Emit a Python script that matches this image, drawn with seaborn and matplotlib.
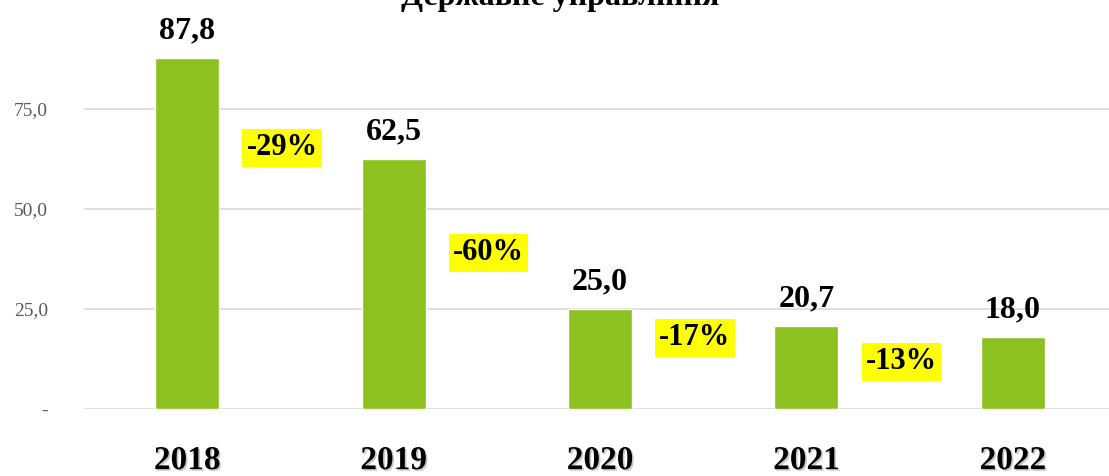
import matplotlib.pyplot as plt
import matplotlib.patheffects as pe
import seaborn as sns
import pandas as pd

years = ['2018', '2019', '2020', '2021', '2022']
values = [87.8, 62.5, 25.0, 20.7, 18.0]
changes = ['-29%', '-60%', '-17%', '-13%']
change_y = [65.3, 39.0, 17.8, 11.8]

df = pd.DataFrame({'Рік': years, 'Значення': values})

sns.set_theme(style="white")
plt.rcParams['font.family'] = ['Liberation Serif', 'DejaVu Serif']

fig = plt.figure(figsize=(11.09, 4.76), dpi=100)
ax = fig.add_axes([84 / 1109, 67 / 476, 1032 / 1109, 400 / 476])

sns.barplot(data=df, x='Рік', y='Значення', color='#8CC11F', width=0.31,
            saturation=1, ax=ax)

ax.set_ylim(0, 100)
ax.set_xlim(-0.5, 4.5)
ax.set_yticks([0, 25, 50, 75])
ax.set_yticklabels(['-', '25,0', '50,0', '75,0'], color='#595959', fontsize=14)
ax.yaxis.grid(True, color='#d9d9d9', linewidth=1.2)
ax.set_axisbelow(True)
for s in ax.spines.values():
    s.set_visible(False)
ax.tick_params(axis='y', length=0, pad=26)
ax.tick_params(axis='x', length=0, pad=26)
ax.set_xlabel('')
ax.set_ylabel('')

for lbl in ax.get_xticklabels():
    lbl.set_fontsize(24)
    lbl.set_fontweight('bold')
    lbl.set_color('black')
    lbl.set_path_effects([pe.withSimplePatchShadow(offset=(1.2, -1.2), shadow_rgbFace='#999999', alpha=0.5)])

ax.bar_label(ax.containers[0], labels=[f'{v:.1f}'.replace('.', ',') for v in values],
             padding=9, fontsize=23, fontweight='bold', color='black')

for i, (txt, y) in enumerate(zip(changes, change_y)):
    ax.text(i + 0.46, y, txt, ha='center', va='center', fontsize=22, fontweight='bold',
            color='black', bbox=dict(facecolor='#FFFF00', edgecolor='none', pad=3))

fig.text(0.505, 1 - 5 / 476, 'Державне управління', ha='center', va='baseline',
         fontsize=23, fontweight='bold', color='black')

fig.savefig('out.png', dpi=100)
